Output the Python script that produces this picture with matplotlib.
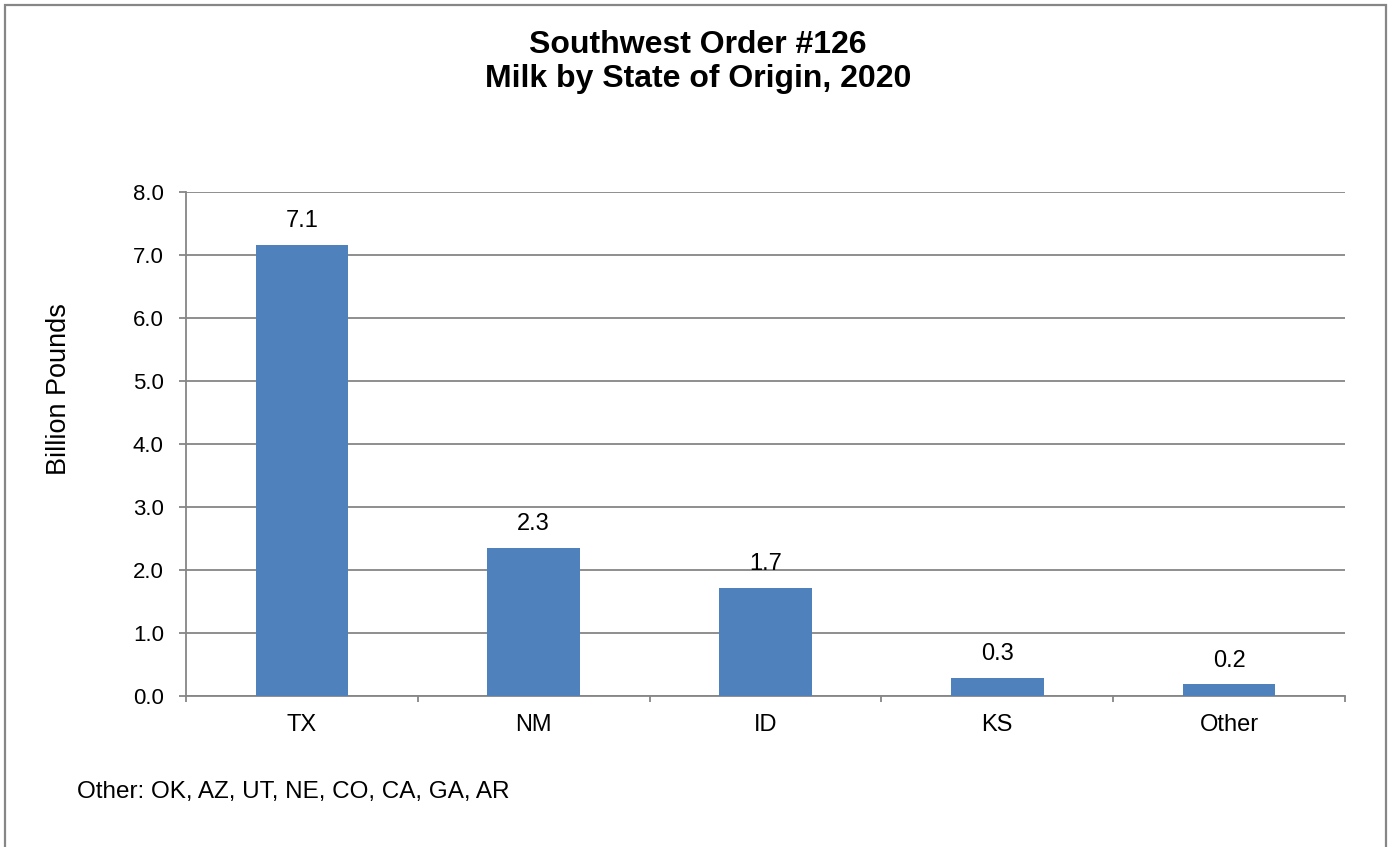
import matplotlib
matplotlib.use("Agg")
import matplotlib.pyplot as plt
from matplotlib.patches import Rectangle
import numpy as np

plt.rcParams["font.family"] = ["Liberation Sans", "DejaVu Sans"]

# data
states = ["TX", "NM", "ID", "KS", "Other"]
milk_bn_lbs = [7.16, 2.35, 1.72, 0.29, 0.19]
value_labels = ["7.1", "2.3", "1.7", "0.3", "0.2"]
y_ticks = [0, 1, 2, 3, 4, 5, 6, 7, 8]

BAR_COLOR = "#4F81BD"
GRID_COLOR = "#868686"

W, H, DPI = 1390, 847, 100
fig = plt.figure(figsize=(W / DPI, H / DPI), dpi=DPI)

# outer chart-area frame (bottom edge is cropped in the original)
fig.patches.append(Rectangle((5 / W, -0.01), (1386 - 5) / W, 1 - 5 / H + 0.01,
                             transform=fig.transFigure, fill=False,
                             edgecolor=GRID_COLOR, linewidth=1.6))

ax = fig.add_axes([186 / W, 1 - 696 / H, (1345 - 186) / W, (696 - 192) / H])
x = np.arange(len(states))
bars = ax.bar(x, milk_bn_lbs, width=0.4, color=BAR_COLOR, zorder=3)

for rect, lab in zip(bars, value_labels):
    ax.annotate(lab, (rect.get_x() + rect.get_width() / 2, rect.get_height()),
                xytext=(0, 9), textcoords="offset points",
                ha="center", va="bottom", fontsize=17)

ax.set_xlim(-0.5, len(states) - 0.5)
ax.set_ylim(0, 8)
ax.set_yticks(y_ticks)
ax.set_yticklabels([f"{v:.1f}" for v in y_ticks], fontsize=16)
ax.set_xticks(x)
ax.set_xticklabels(states, fontsize=17)
ax.set_xticks(np.arange(len(states) + 1) - 0.5, minor=True)
ax.tick_params(axis="x", which="major", length=0, pad=13)
ax.tick_params(axis="x", which="minor", length=4.5, width=1.3, color=GRID_COLOR)
ax.tick_params(axis="y", length=5, width=1.3, color=GRID_COLOR, pad=11)

ax.grid(axis="y", color=GRID_COLOR, linewidth=1.3, zorder=0)
ax.set_axisbelow(True)
for side in ["top", "right"]:
    ax.spines[side].set_visible(False)
for side in ["left", "bottom"]:
    ax.spines[side].set_color(GRID_COLOR)
    ax.spines[side].set_linewidth(1.3)

fig.text(698 / W, 1 - 62 / H, "Southwest Order #126\nMilk by State of Origin, 2020",
         ha="center", va="center", fontsize=23, fontweight="bold", linespacing=1.15)
fig.text(59 / W, 1 - 389 / H, "Billion Pounds", rotation=90,
         ha="center", va="center", fontsize=19.5)
fig.text(77 / W, 1 - 792 / H, "Other: OK, AZ, UT, NE, CO, CA, GA, AR",
         ha="left", va="center", fontsize=17.5)

fig.savefig("out.png", dpi=DPI, facecolor="white")
